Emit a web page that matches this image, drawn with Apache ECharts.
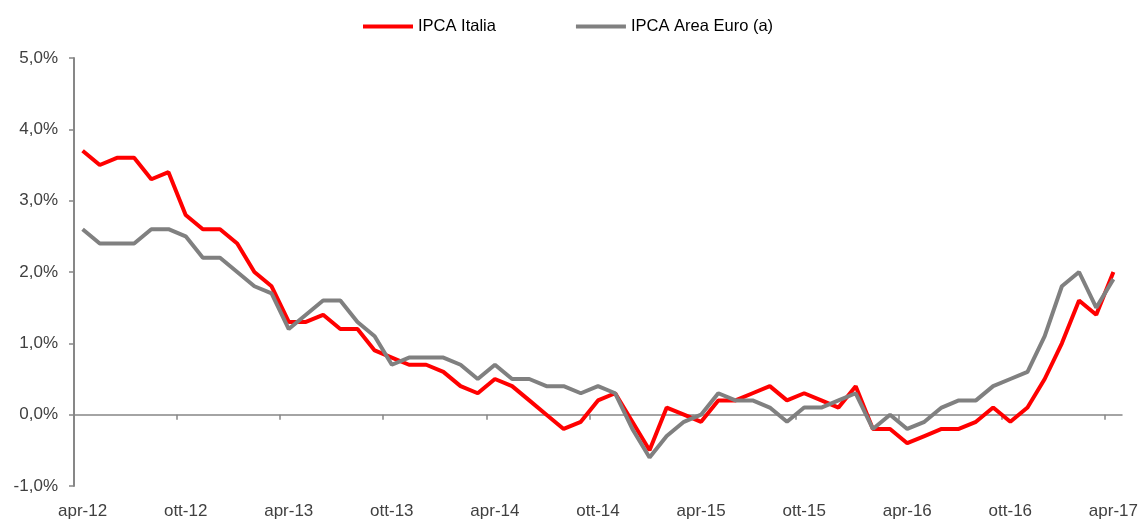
<!DOCTYPE html>
<html>
<head>
<meta charset="utf-8">
<script src="https://cdn.jsdelivr.net/npm/echarts@6/dist/echarts.min.js"></script>
<style>
  html, body { margin: 0; padding: 0; background: #fff; }
  #chart { width: 1142px; height: 522px; }
</style>
</head>
<body>
<div id="chart"></div>
<script>
// mesi da apr-12 a apr-17
var mesi = ['apr', 'mag', 'giu', 'lug', 'ago', 'set', 'ott', 'nov', 'dic', 'gen', 'feb', 'mar'];
var months = [];
for (var i = 0; i < 61; i++) {
  var m = i % 12;
  var y = 12 + Math.floor((i + 3) / 12);
  months.push(mesi[m] + '-' + y);
}

// IPCA Italia, var. % tendenziale
var ipcaItalia = [
  3.7, 3.5, 3.6, 3.6, 3.3, 3.4, 2.8, 2.6, 2.6,
  2.4, 2.0, 1.8, 1.3, 1.3, 1.4, 1.2, 1.2, 0.9, 0.8, 0.7, 0.7,
  0.6, 0.4, 0.3, 0.5, 0.4, 0.2, 0.0, -0.2, -0.1, 0.2, 0.3, -0.1,
  -0.5, 0.1, 0.0, -0.1, 0.2, 0.2, 0.3, 0.4, 0.2, 0.3, 0.2, 0.1,
  0.4, -0.2, -0.2, -0.4, -0.3, -0.2, -0.2, -0.1, 0.1, -0.1, 0.1, 0.5,
  1.0, 1.6, 1.4, 2.0
];

// IPCA Area Euro (a)
var ipcaEuro = [
  2.6, 2.4, 2.4, 2.4, 2.6, 2.6, 2.5, 2.2, 2.2,
  2.0, 1.8, 1.7, 1.2, 1.4, 1.6, 1.6, 1.3, 1.1, 0.7, 0.8, 0.8,
  0.8, 0.7, 0.5, 0.7, 0.5, 0.5, 0.4, 0.4, 0.3, 0.4, 0.3, -0.2,
  -0.6, -0.3, -0.1, 0.0, 0.3, 0.2, 0.2, 0.1, -0.1, 0.1, 0.1, 0.2,
  0.3, -0.2, 0.0, -0.2, -0.1, 0.1, 0.2, 0.2, 0.4, 0.5, 0.6, 1.1,
  1.8, 2.0, 1.5, 1.9
];

var txt = '#404040';
var axisCol = '#878787';

// larghezza di una categoria, serve per la griglia dei soli tick
var gridLeft = 74, gridRight = 20;
var band = (1142 - gridLeft - gridRight) / months.length;

var myChart = echarts.init(document.getElementById('chart'));

var option = {
  animation: false,
  textStyle: { fontFamily: 'Liberation Sans, Arial, sans-serif' },
  legend: {
    left: 363,
    top: 18,
    padding: 0,
    itemWidth: 50,
    itemHeight: 4,
    itemGap: 80,
    textStyle: { color: '#000', fontSize: 16.5 },
    data: [
      { name: 'IPCA Italia', icon: 'rect' },
      { name: 'IPCA Area Euro (a)', icon: 'rect' }
    ]
  },
  grid: [
    { left: gridLeft, right: gridRight, top: 58, bottom: 36 },
    // stessa griglia senza l'ultimo mese: solo per i tick ogni 6 mesi
    { left: gridLeft, right: gridRight + band, top: 58, bottom: 36 }
  ],
  xAxis: [{
    type: 'category',
    gridIndex: 0,
    data: months,
    boundaryGap: true,
    axisLine: { show: false, onZero: false },
    axisTick: { show: false },
    axisLabel: { interval: 5, color: txt, fontSize: 17, margin: 17 },
    splitLine: { show: false }
  }, {
    type: 'category',
    gridIndex: 0,
    data: months,
    boundaryGap: true,
    axisLine: { show: true, onZero: true, lineStyle: { color: axisCol, width: 1.5 } },
    axisTick: { show: false },
    axisLabel: { show: false },
    splitLine: { show: false }
  }, {
    type: 'category',
    gridIndex: 1,
    data: months.slice(0, 60),
    boundaryGap: true,
    axisLine: { show: false, onZero: true },
    axisTick: { show: true, interval: 5, length: 5, lineStyle: { color: axisCol, width: 1.5 } },
    axisLabel: { show: false },
    splitLine: { show: false }
  }],
  yAxis: [{
    type: 'value',
    gridIndex: 0,
    min: -1,
    max: 5,
    interval: 1,
    axisLine: { show: true, lineStyle: { color: axisCol, width: 2 } },
    axisTick: { show: true, length: 5, lineStyle: { color: axisCol, width: 1.5 } },
    axisLabel: {
      color: txt,
      fontSize: 17,
      margin: 16,
      formatter: function (v) { return v.toFixed(1).replace('.', ',') + '%'; }
    },
    splitLine: { show: false }
  }, {
    type: 'value',
    gridIndex: 1,
    min: -1,
    max: 5,
    interval: 1,
    show: false
  }],
  series: [{
    name: 'IPCA Italia',
    type: 'line',
    xAxisIndex: 0,
    yAxisIndex: 0,
    data: ipcaItalia,
    symbol: 'none',
    itemStyle: { color: '#FF0000' },
    lineStyle: { color: '#FF0000', width: 4 },
    z: 2
  }, {
    name: 'IPCA Area Euro (a)',
    type: 'line',
    xAxisIndex: 0,
    yAxisIndex: 0,
    data: ipcaEuro,
    symbol: 'none',
    itemStyle: { color: '#808080' },
    lineStyle: { color: '#808080', width: 4 },
    z: 3
  }]
};

myChart.setOption(option);
</script>
</body>
</html>
